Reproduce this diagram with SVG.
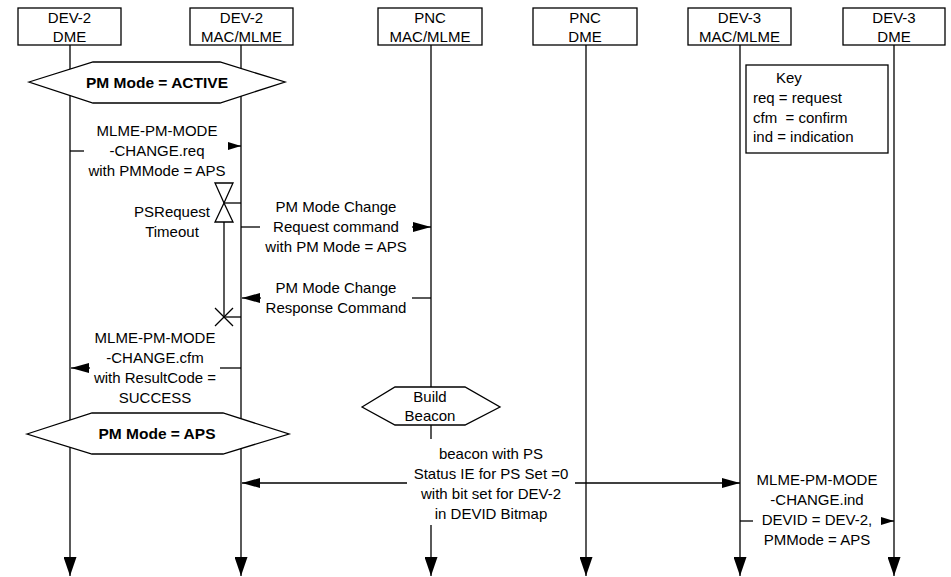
<svg xmlns="http://www.w3.org/2000/svg" width="951" height="577" viewBox="0 0 951 577">
<defs>
<style>
.box{fill:#fff;stroke:#000;stroke-width:1.3}
.hex{fill:#fff;stroke:#000;stroke-width:1.3}
.ln{fill:none;stroke:#000;stroke-width:1.3}
text{font-family:"Liberation Sans",Arial,sans-serif;font-size:15px;fill:#000;text-anchor:middle}
.b{font-weight:bold;font-size:15.5px}
.l{text-anchor:start;white-space:pre}
</style>
<marker id="big" markerUnits="userSpaceOnUse" markerWidth="18" markerHeight="10" refX="18" refY="5" orient="auto"><path d="M0,0 L18,5 L0,10 z" fill="#000"/></marker>
<marker id="small" markerUnits="userSpaceOnUse" markerWidth="13" markerHeight="8" refX="13" refY="4" orient="auto"><path d="M0,0 L13,4 L0,8 z" fill="#000"/></marker>
<marker id="down" markerUnits="userSpaceOnUse" markerWidth="19" markerHeight="13" refX="19" refY="6.5" orient="auto"><path d="M0,0 L19,6.5 L0,13 z" fill="#000"/></marker>
</defs>
<rect width="951" height="577" fill="#fff"/>

<g id="connectors">
<line class="ln" x1="70" y1="45" x2="70" y2="576" marker-end="url(#down)"/>
<line class="ln" x1="241" y1="45" x2="241" y2="576" marker-end="url(#down)"/>
<line class="ln" x1="431" y1="45" x2="431" y2="439"/>
<line class="ln" x1="431" y1="525" x2="431" y2="576" marker-end="url(#down)"/>
<line class="ln" x1="586" y1="45" x2="586" y2="576" marker-end="url(#down)"/>
<line class="ln" x1="740" y1="45" x2="740" y2="576" marker-end="url(#down)"/>
<line class="ln" x1="894" y1="45" x2="894" y2="576" marker-end="url(#down)"/>

<line class="ln" x1="70" y1="151" x2="84" y2="151"/>
<line class="ln" x1="229" y1="146" x2="241" y2="146" marker-end="url(#small)"/>

<line class="ln" x1="224" y1="203" x2="241" y2="203"/>
<line class="ln" x1="224" y1="222" x2="224" y2="317"/>
<line class="ln" x1="224" y1="317" x2="241" y2="317"/>
<line class="ln" x1="215" y1="308" x2="233" y2="326"/>
<line class="ln" x1="215" y1="326" x2="233" y2="308"/>

<line class="ln" x1="241" y1="227" x2="260" y2="227"/>
<line class="ln" x1="412" y1="227" x2="431" y2="227" marker-end="url(#big)"/>

<line class="ln" x1="412" y1="298" x2="431" y2="298"/>
<line class="ln" x1="261" y1="298" x2="242" y2="298" marker-end="url(#big)"/>

<line class="ln" x1="220" y1="368" x2="241" y2="368"/>
<line class="ln" x1="90" y1="368" x2="71" y2="368" marker-end="url(#big)"/>

<line class="ln" x1="407" y1="483" x2="242" y2="483" marker-end="url(#big)"/>
<line class="ln" x1="575" y1="483" x2="740" y2="483" marker-end="url(#big)"/>

<line class="ln" x1="740" y1="521" x2="753" y2="521"/>
<line class="ln" x1="881" y1="521" x2="894" y2="521" marker-end="url(#small)"/>
</g>

<g id="dev2-dme"><rect class="box" x="18" y="8" width="103" height="37"/><text x="69.5" y="23">DEV-2</text><text x="69.5" y="42">DME</text></g>
<g id="dev2-mac"><rect class="box" x="190" y="8" width="103" height="37"/><text x="241.5" y="23">DEV-2</text><text x="241.5" y="42">MAC/MLME</text></g>
<g id="pnc-mac"><rect class="box" x="378" y="8" width="104" height="37"/><text x="430" y="23">PNC</text><text x="430" y="42">MAC/MLME</text></g>
<g id="pnc-dme"><rect class="box" x="533" y="8" width="104" height="37"/><text x="585" y="23">PNC</text><text x="585" y="42">DME</text></g>
<g id="dev3-mac"><rect class="box" x="688" y="8" width="103" height="37"/><text x="739.5" y="23">DEV-3</text><text x="739.5" y="42">MAC/MLME</text></g>
<g id="dev3-dme"><rect class="box" x="843" y="8" width="102" height="37"/><text x="894" y="23">DEV-3</text><text x="894" y="42">DME</text></g>

<g id="key"><rect class="box" x="746" y="65" width="142" height="88"/>
<text class="l" x="776" y="83">Key</text>
<text class="l" x="753" y="103">req = request</text>
<text class="l" x="753" y="123">cfm  = confirm</text>
<text class="l" x="753" y="142">ind = indication</text></g>

<g id="state-active"><polygon class="hex" points="29,82 93,62 220,62 285,82 220,103 93,103"/><text class="b" x="157" y="88">PM Mode = ACTIVE</text></g>

<g id="msg-req"><text x="157" y="136">MLME-PM-MODE</text><text x="157" y="156">-CHANGE.req</text><text x="157" y="176">with PMMode = APS</text></g>

<g id="timer"><polygon class="hex" points="215,183 233,183 224,203"/><polygon class="hex" points="224,203 215,222 233,222"/><text x="172" y="217">PSRequest</text><text x="172" y="237">Timeout</text></g>

<g id="msg-request-cmd"><text x="336" y="212">PM Mode Change</text><text x="336" y="232">Request command</text><text x="336" y="252">with PM Mode = APS</text></g>

<g id="msg-response-cmd"><text x="336" y="293">PM Mode Change</text><text x="336" y="313">Response Command</text></g>

<g id="msg-cfm"><text x="155" y="343">MLME-PM-MODE</text><text x="155" y="363">-CHANGE.cfm</text><text x="155" y="383">with ResultCode =</text><text x="155" y="403">SUCCESS</text></g>

<g id="build-beacon"><polygon class="hex" points="362,407 395,387 465,387 500,407 465,425 395,425"/><text x="430" y="402">Build</text><text x="430" y="421">Beacon</text></g>

<g id="state-aps"><polygon class="hex" points="27,434 92,413 223,413 289,434 223,454 92,454"/><text class="b" x="157" y="439">PM Mode = APS</text></g>

<g id="msg-beacon"><text x="491" y="459">beacon with PS</text><text x="491" y="479">Status IE for PS Set =0</text><text x="491" y="499">with bit set for DEV-2</text><text x="491" y="519">in DEVID Bitmap</text></g>

<g id="msg-ind"><text x="817" y="485">MLME-PM-MODE</text><text x="817" y="505">-CHANGE.ind</text><text x="817" y="525">DEVID = DEV-2,</text><text x="817" y="545">PMMode = APS</text></g>
</svg>
